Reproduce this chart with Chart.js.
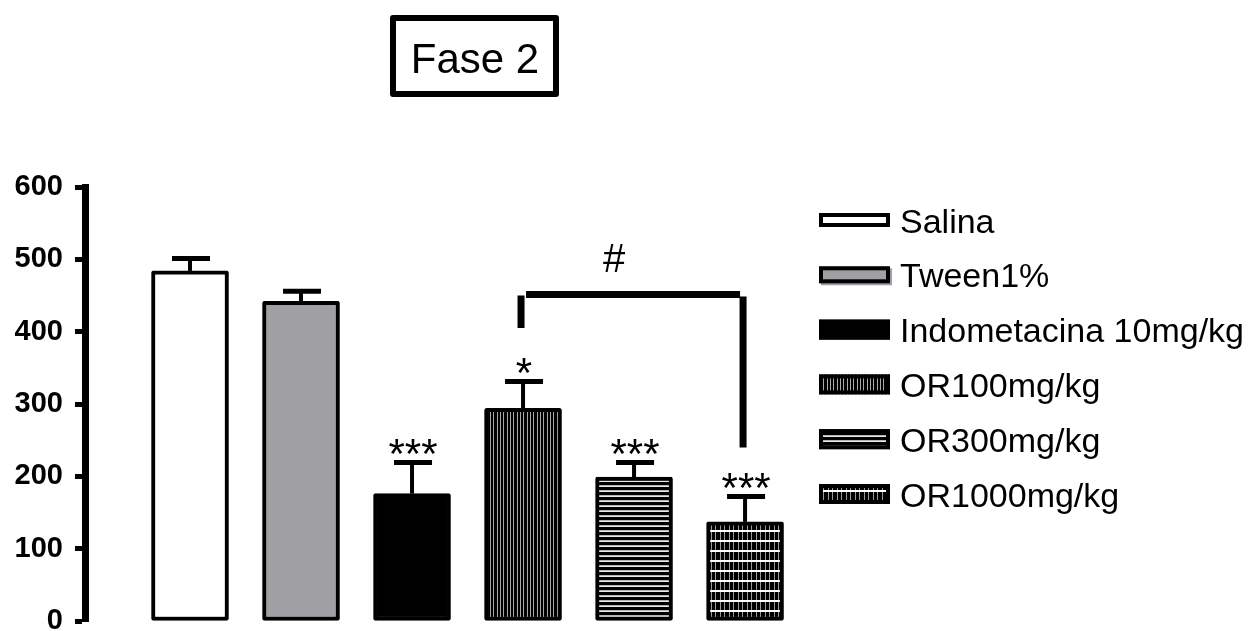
<!DOCTYPE html>
<html>
<head>
<meta charset="utf-8">
<title>Fase 2</title>
<script src="https://cdn.jsdelivr.net/npm/chart.js@4.4.0/dist/chart.umd.min.js"></script>
<style>
    html, body { margin: 0; padding: 0; background: #fff; }
</style>
</head>
<body>
<canvas id="fase2Chart" width="1256" height="631"></canvas>
<script>
// Groups and values (mean + SEM)
const groups = ['Salina', 'Tween1%', 'Indometacina 10mg/kg', 'OR100mg/kg', 'OR300mg/kg', 'OR1000mg/kg'];
const means = [484, 442, 176, 294, 199, 137];
const sems = [17, 14, 43, 37, 20, 35];
const stars = ['', '', '***', '*', '***', '***'];
const yTicks = [0, 100, 200, 300, 400, 500, 600];

// "#" comparison between OR100 and OR1000
const bracketGroups = [3, 5];
const bracketValues = [405, 450, 240]; // left end, top line, right end
const bracketLabel = '#';

const chartTitle = 'Fase 2';

const canvas = document.getElementById('fase2Chart');
const ctx = canvas.getContext('2d');
const FONT = '"Liberation Sans", Arial, sans-serif';

// little helper to build fill patterns for the hatched bars
function makePattern(w, h, draw) {
    const c = document.createElement('canvas');
    c.width = w;
    c.height = h;
    const g = c.getContext('2d');
    g.fillStyle = '#000';
    g.fillRect(0, 0, w, h);
    draw(g);
    return ctx.createPattern(c, 'repeat');
}

const vStripes = makePattern(10, 4, g => {
    g.fillStyle = '#a8a8a8';
    [0, 3, 7].forEach(x => g.fillRect(x, 0, 1, 4));
});
const hStripes = makePattern(4, 5, g => {
    g.fillStyle = '#b4b4b4';
    g.fillRect(0, 0, 4, 1);
    g.fillStyle = '#e8e8e8';
    g.fillRect(0, 1, 4, 1);
});
const grid = makePattern(9, 10, g => {
    g.fillStyle = '#9a9a9a';
    g.fillRect(0, 0, 1, 10);
    g.fillRect(4, 0, 1, 10);
    g.fillStyle = '#fff';
    g.fillRect(0, 0, 9, 2);
});

const fills = ['#ffffff', '#a0a0a4', '#000000', vStripes, hStripes, grid];

// error bars (upper only) + significance marks
const errorBarPlugin = {
    id: 'errorBars',
    afterDatasetsDraw(chart) {
        const c = chart.ctx;
        const yScale = chart.scales.y;
        const meta = chart.getDatasetMeta(0);
        c.save();
        c.strokeStyle = '#000';
        c.fillStyle = '#000';
        meta.data.forEach((bar, i) => {
            const x = bar.x;
            const top = yScale.getPixelForValue(means[i]);
            const cap = yScale.getPixelForValue(means[i] + sems[i]);
            c.lineWidth = 4;
            c.beginPath();
            c.moveTo(x, top);
            c.lineTo(x, cap);
            c.stroke();
            c.lineWidth = 5;
            c.beginPath();
            c.moveTo(x - 18, cap);
            c.lineTo(x + 20, cap);
            c.stroke();
            if (stars[i]) {
                c.font = '42px ' + FONT;
                c.textAlign = 'center';
                c.textBaseline = 'alphabetic';
                c.fillText(stars[i], x + 1, cap + 5);
            }
        });
        c.restore();
    }
};

const bracketPlugin = {
    id: 'bracket',
    afterDatasetsDraw(chart) {
        const c = chart.ctx;
        const yScale = chart.scales.y;
        const meta = chart.getDatasetMeta(0);
        const xl = meta.data[bracketGroups[0]].x - 2;
        const xr = meta.data[bracketGroups[1]].x - 2;
        const yLeft = yScale.getPixelForValue(bracketValues[0]);
        const yTop = yScale.getPixelForValue(bracketValues[1]);
        const yRight = yScale.getPixelForValue(bracketValues[2]);
        c.save();
        c.strokeStyle = '#000';
        c.lineWidth = 7;
        c.beginPath();
        c.moveTo(xl, yTop);
        c.lineTo(xl, yLeft);
        c.moveTo(xl + 5, yTop - 1);
        c.lineTo(xr - 3, yTop - 1);
        c.moveTo(xr, yTop + 1);
        c.lineTo(xr, yRight);
        c.stroke();
        c.fillStyle = '#000';
        c.font = '40px ' + FONT;
        c.textAlign = 'center';
        c.fillText(bracketLabel, (xl + xr) / 2 - 18, yTop - 24);
        c.restore();
    }
};

// boxed title at the top
const boxTitlePlugin = {
    id: 'boxTitle',
    afterDraw(chart) {
        const c = chart.ctx;
        c.save();
        c.strokeStyle = '#000';
        c.lineWidth = 6;
        c.lineJoin = 'round';
        c.strokeRect(393, 18, 163, 76);
        c.fillStyle = '#000';
        c.font = '42px ' + FONT;
        c.textAlign = 'center';
        c.textBaseline = 'alphabetic';
        c.fillText(chartTitle, 475, 73);
        c.restore();
    }
};

// legend on the right, drawn by hand
const legendPlugin = {
    id: 'sideLegend',
    afterDraw(chart) {
        const c = chart.ctx;
        const heights = [14, 17, 20, 20, 20, 20];
        c.save();
        groups.forEach((name, i) => {
            const cy = 220 + i * 54.8;
            const h = heights[i];
            const x = 819, w = 71;
            if (i === 1) {
                c.fillStyle = '#a0a0a4';
                c.fillRect(x + 2, cy - h / 2 + 2, w, h);
            }
            c.fillStyle = fills[i];
            c.fillRect(x, cy - h / 2, w, h);
            c.strokeStyle = '#000';
            c.lineWidth = 4;
            c.strokeRect(x + 2, cy - h / 2 + 2, w - 4, h - 4);
            c.fillStyle = '#000';
            c.font = '34px ' + FONT;
            c.textAlign = 'left';
            c.textBaseline = 'alphabetic';
            c.fillText(name, 900, cy + 12.5);
        });
        c.restore();
    }
};

new Chart(ctx, {
    type: 'bar',
    data: {
        datasets: [{
            data: means.map((m, i) => ({ x: i, y: m })),
            backgroundColor: fills,
            borderColor: '#000',
            borderWidth: 4,
            borderSkipped: false,
            borderRadius: 2,
            barThickness: 77
        }]
    },
    options: {
        responsive: false,
        animation: false,
        devicePixelRatio: 1,
        layout: {
            padding: { top: 187, right: 456, bottom: 10, left: 0 }
        },
        plugins: {
            legend: { display: false },
            tooltip: { enabled: false }
        },
        scales: {
            x: {
                type: 'linear',
                display: false,
                offset: false,
                min: -0.946,
                max: 5.495
            },
            y: {
                min: 0,
                max: 600,
                afterBuildTicks: scale => {
                    scale.ticks = yTicks.map(v => ({ value: v }));
                },
                afterFit: scale => {
                    scale.width = 85;
                    scale.paddingTop = 0;
                    scale.paddingBottom = 0;
                },
                ticks: {
                    color: '#000',
                    padding: 12,
                    font: { family: FONT, size: 29, weight: 'bold' }
                },
                grid: {
                    drawOnChartArea: false,
                    drawTicks: true,
                    tickLength: 10,
                    tickWidth: 5,
                    tickColor: '#000'
                },
                border: { display: true, width: 7, color: '#000' }
            }
        }
    },
    plugins: [errorBarPlugin, bracketPlugin, boxTitlePlugin, legendPlugin]
});
</script>
</body>
</html>
